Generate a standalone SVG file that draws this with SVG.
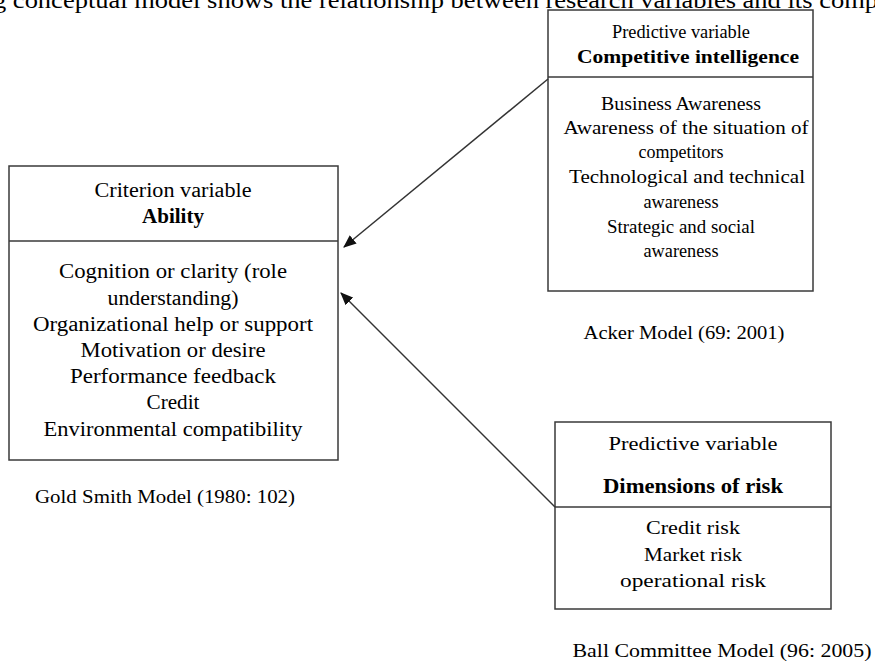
<svg xmlns="http://www.w3.org/2000/svg" width="875" height="663" viewBox="0 0 875 663">
  <style>
    text { font-family: "Liberation Serif", "Times New Roman", serif; fill: #000; text-anchor: middle; }
    .box { fill: #fff; stroke: #3a3a3a; stroke-width: 1.5; }
    .div { stroke: #3a3a3a; stroke-width: 1.5; }
    .s18 { font-size: 18px; }
    .s20 { font-size: 20px; }
    .b { font-weight: bold; }
    .conn { stroke: #333; stroke-width: 1.5; fill: none; }
  </style>
  <defs>
    <marker id="arrow" viewBox="0 0 12 10" refX="11" refY="5" markerWidth="13" markerHeight="11" markerUnits="userSpaceOnUse" orient="auto">
      <path d="M0,0 L12,5 L0,10 z" fill="#111"/>
    </marker>
  </defs>

  <rect width="875" height="663" fill="#fff"/>

  <!-- heading line running off the top edge -->
  <text x="-7" y="8" style="font-size:23px; text-anchor:start" textLength="885" lengthAdjust="spacingAndGlyphs">g conceptual model shows the relationship between research variables and its comp</text>

  <g id="ability">
    <rect class="box" x="9" y="166" width="329" height="294"/>
    <line class="div" x1="9" y1="241" x2="338" y2="241"/>
    <text class="s20" x="173" y="197" textLength="157" lengthAdjust="spacingAndGlyphs">Criterion  variable</text>
    <text class="s20 b" x="173" y="223" textLength="62" lengthAdjust="spacingAndGlyphs">Ability</text>
    <text class="s20" x="173" y="278" textLength="228" lengthAdjust="spacingAndGlyphs">Cognition  or clarity  (role</text>
    <text class="s20" x="173" y="305" textLength="131" lengthAdjust="spacingAndGlyphs">understanding)</text>
    <text class="s20" x="173" y="331" textLength="280" lengthAdjust="spacingAndGlyphs">Organizational  help  or support</text>
    <text class="s20" x="173" y="357" textLength="185" lengthAdjust="spacingAndGlyphs">Motivation  or desire</text>
    <text class="s20" x="173" y="383" textLength="206" lengthAdjust="spacingAndGlyphs">Performance  feedback</text>
    <text class="s20" x="173" y="409" textLength="53" lengthAdjust="spacingAndGlyphs">Credit</text>
    <text class="s20" x="173" y="436" textLength="259" lengthAdjust="spacingAndGlyphs">Environmental  compatibility</text>
    <text class="s18" x="165" y="503" textLength="260" lengthAdjust="spacingAndGlyphs">Gold Smith  Model  (1980: 102)</text>
  </g>

  <g id="competitive-intelligence">
    <rect class="box" x="548" y="10" width="265" height="281"/>
    <line class="div" x1="548" y1="77" x2="813" y2="77"/>
    <text class="s18" x="681" y="38" textLength="138" lengthAdjust="spacingAndGlyphs">Predictive variable</text>
    <text class="s18 b" x="688" y="63" textLength="222" lengthAdjust="spacingAndGlyphs">Competitive intelligence</text>
    <text class="s18" x="681" y="110" textLength="160" lengthAdjust="spacingAndGlyphs">Business Awareness</text>
    <text class="s18" x="686" y="134" textLength="245" lengthAdjust="spacingAndGlyphs">Awareness of the situation  of</text>
    <text class="s18" x="681" y="158" textLength="85" lengthAdjust="spacingAndGlyphs">competitors</text>
    <text class="s18" x="687" y="183" textLength="236" lengthAdjust="spacingAndGlyphs">Technological  and technical</text>
    <text class="s18" x="681" y="208" textLength="75" lengthAdjust="spacingAndGlyphs">awareness</text>
    <text class="s18" x="681" y="233" textLength="148" lengthAdjust="spacingAndGlyphs">Strategic  and social</text>
    <text class="s18" x="681" y="257" textLength="75" lengthAdjust="spacingAndGlyphs">awareness</text>
    <text class="s18" x="684" y="339" textLength="201" lengthAdjust="spacingAndGlyphs">Acker Model (69: 2001)</text>
  </g>

  <g id="dimensions-of-risk">
    <rect class="box" x="555" y="422" width="276" height="187"/>
    <line class="div" x1="555" y1="507" x2="831" y2="507"/>
    <text class="s18" x="693" y="450" textLength="169" lengthAdjust="spacingAndGlyphs">Predictive  variable</text>
    <text class="s20 b" x="693" y="493" textLength="180" lengthAdjust="spacingAndGlyphs">Dimensions  of risk</text>
    <text class="s18" x="693" y="534" textLength="94" lengthAdjust="spacingAndGlyphs">Credit risk</text>
    <text class="s18" x="693" y="561" textLength="98" lengthAdjust="spacingAndGlyphs">Market risk</text>
    <text class="s18" x="693" y="587" textLength="146" lengthAdjust="spacingAndGlyphs">operational  risk</text>
    <text class="s18" x="722" y="657" textLength="299" lengthAdjust="spacingAndGlyphs">Ball  Committee  Model (96: 2005)</text>
  </g>

  <g id="connectors">
    <line class="conn" x1="548" y1="79" x2="344" y2="247" marker-end="url(#arrow)"/>
    <line class="conn" x1="555" y1="507" x2="341" y2="293" marker-end="url(#arrow)"/>
  </g>
</svg>
